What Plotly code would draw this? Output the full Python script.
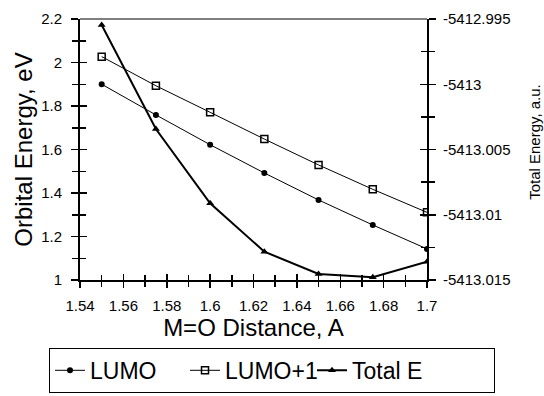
import plotly.graph_objects as go

distance = [1.55, 1.575, 1.6, 1.625, 1.65, 1.675, 1.7]
lumo = [1.90, 1.759, 1.622, 1.492, 1.368, 1.253, 1.143]
lumo1 = [2.027, 1.893, 1.771, 1.648, 1.529, 1.417, 1.311]
total_e = [-5412.99546, -5413.00343, -5413.00912, -5413.01283, -5413.01454, -5413.01479, -5413.0136]

x_ticks = [1.54, 1.56, 1.58, 1.6, 1.62, 1.64, 1.66, 1.68, 1.7]
x_ticklabels = ["1.54", "1.56", "1.58", "1.6", "1.62", "1.64", "1.66", "1.68", "1.7"]
y_ticks = [1, 1.2, 1.4, 1.6, 1.8, 2, 2.2]
y_ticklabels = ["1", "1.2", "1.4", "1.6", "1.8", "2", "2.2"]
y2_ticks = [-5412.995, -5413.0, -5413.005, -5413.01, -5413.015]
y2_ticklabels = ["-5412.995", "-5413", "-5413.005", "-5413.01", "-5413.015"]

FONT = "Liberation Sans, Arial, sans-serif"

fig = go.Figure()
fig.add_trace(go.Scatter(x=distance, y=lumo, name="LUMO", mode="lines+markers",
                         line=dict(color="black", width=1), legendwidth=90,
                         marker=dict(symbol="circle", size=6, color="black")))
fig.add_trace(go.Scatter(x=distance, y=lumo1, name="LUMO+1", mode="lines+markers",
                         line=dict(color="black", width=1), legendwidth=82,
                         marker=dict(symbol="square-open", size=7, color="black",
                                     line=dict(width=1.5))))
fig.add_trace(go.Scatter(x=distance, y=total_e, name="Total E", mode="lines+markers",
                         yaxis="y2", legendwidth=137,
                         line=dict(color="black", width=2),
                         marker=dict(symbol="triangle-up", size=7, color="black")))
# invisible helper traces so that the inward tick overlays get drawn
fig.add_trace(go.Scatter(x=distance, y=lumo, xaxis="x3", yaxis="y", mode="lines",
                         opacity=0, showlegend=False, hoverinfo="skip"))
fig.add_trace(go.Scatter(x=distance, y=lumo, xaxis="x", yaxis="y3", mode="lines",
                         opacity=0, showlegend=False, hoverinfo="skip"))
fig.add_trace(go.Scatter(x=distance, y=total_e, xaxis="x", yaxis="y4", mode="lines",
                         opacity=0, showlegend=False, hoverinfo="skip"))

xr = [1.54, 1.7]
yr = [1, 2.2]
y2r = [-5413.015, -5412.995]

tk = dict(tickwidth=1.5, tickcolor="black")

fig.update_layout(
    width=544, height=396,
    margin=dict(l=80, r=117, t=19, b=116, autoexpand=False),
    paper_bgcolor="white", plot_bgcolor="white",
    font=dict(family=FONT, color="black"),
    showlegend=True, hovermode=False,
    xaxis=dict(range=xr, tickvals=x_ticks, ticktext=x_ticklabels,
               ticks="outside", ticklen=6, **tk, ticklabelstandoff=5,
               minor=dict(dtick=0.01, tick0=1.54, ticks="outside", ticklen=5, **tk),
               showline=True, linewidth=2, linecolor="black", showgrid=False, zeroline=False,
               tickfont=dict(size=15), automargin=False,
               title=dict(text="M=O Distance, A", font=dict(size=24), standoff=0)),
    xaxis3=dict(range=xr, overlaying="x", anchor="y", side="bottom",
                tickvals=x_ticks, showticklabels=False,
                ticks="inside", ticklen=6, **tk,
                minor=dict(dtick=0.01, tick0=1.54, ticks="inside", ticklen=5, **tk),
                showline=False, showgrid=False, zeroline=False, automargin=False),
    yaxis=dict(range=yr, tickvals=y_ticks, ticktext=y_ticklabels,
               ticks="outside", ticklen=7, **tk, ticklabelstandoff=6,
               minor=dict(dtick=0.1, tick0=1, ticks="outside", ticklen=6, **tk),
               showline=True, linewidth=2, linecolor="black", showgrid=False, zeroline=False,
               tickfont=dict(size=15), automargin=False,
               title=dict(text="Orbital Energy, eV", font=dict(size=24), standoff=2)),
    yaxis3=dict(range=yr, overlaying="y", anchor="x", side="left",
                tickvals=y_ticks, showticklabels=False,
                ticks="inside", ticklen=7, **tk,
                minor=dict(dtick=0.1, tick0=1, ticks="inside", ticklen=6, **tk),
                showline=False, showgrid=False, zeroline=False, automargin=False),
    yaxis2=dict(range=y2r, overlaying="y", side="right", anchor="x",
                tickvals=y2_ticks, ticktext=y2_ticklabels,
                ticks="outside", ticklen=7, **tk, ticklabelstandoff=4,
                minor=dict(dtick=0.0025, tick0=-5413.015, ticks="outside", ticklen=6, **tk),
                showline=True, linewidth=2, linecolor="black", showgrid=False, zeroline=False,
                tickfont=dict(size=15), automargin=False),
    yaxis4=dict(range=y2r, overlaying="y", side="right", anchor="x",
                tickvals=y2_ticks, showticklabels=False,
                ticks="inside", ticklen=7, **tk,
                minor=dict(dtick=0.0025, tick0=-5413.015, ticks="inside", ticklen=6, **tk),
                showline=False, showgrid=False, zeroline=False, automargin=False),
    legend=dict(orientation="h", x=1.196, xanchor="right", y=-0.26, yanchor="top",
                bordercolor="black", borderwidth=1, bgcolor="white",
                font=dict(size=23), itemwidth=30),
    annotations=[dict(text="Total Energy, a.u.", xref="paper", yref="paper",
                      x=1.311, y=0.529, xanchor="center", yanchor="middle",
                      textangle=-90, showarrow=False, font=dict(size=15))],
    shapes=[dict(type="line", xref="paper", yref="paper", x0=0, x1=1, y0=1, y1=1,
                 line=dict(color="black", width=1))],
)

fig.write_html("out.html", config={"displayModeBar": False, "staticPlot": True},
               post_script="document.body.style.margin='0';")
